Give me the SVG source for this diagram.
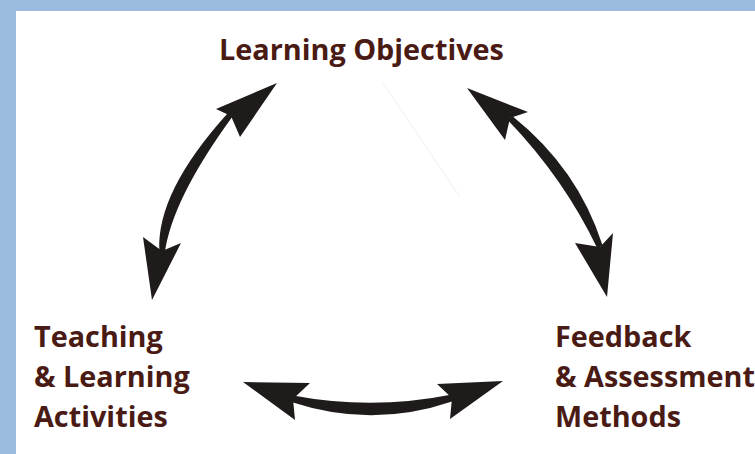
<svg xmlns="http://www.w3.org/2000/svg" width="755" height="454" viewBox="0 0 755 454">
  <style>
    .label { font-family: "Open Sans", "Liberation Sans", sans-serif; font-weight: 700; font-size: 28.8px; fill: #4a1b14; }
    .arrow { fill: #1e1b1a; }
  </style>
  <!-- frame -->
  <rect x="0" y="0" width="755" height="454" fill="#9bbce0"/>
  <rect x="16" y="11" width="739" height="443" fill="#ffffff"/>
  <!-- faint crease -->
  <line x1="383" y1="83" x2="460" y2="197" stroke="#000" stroke-opacity="0.04" stroke-width="1.5"/>

  <g id="objectives">
    <text class="label" x="219" y="60">Learning Objectives</text>
  </g>
  <g id="activities">
    <text class="label" x="34" y="347">Teaching</text>
    <text class="label" x="34" y="387">&amp; Learning</text>
    <text class="label" x="34" y="427">Activities</text>
  </g>
  <g id="assessment">
    <text class="label" x="555" y="347">Feedback</text>
    <text class="label" x="555" y="387">&amp; Assessment</text>
    <text class="label" x="555" y="427">Methods</text>
  </g>

  <g id="connectors" class="arrow">
    <!-- objectives <-> activities -->
    <path d="M227.5,113.5 Q156.3,192.2 159.3,250.9 L164.7,253.4 Q171.7,199.8 232.5,116.5 Z"/>
    <path d="M277,83 L216,109 L231,116 L240,137 Z"/>
    <path d="M152,300 L143,237 L162,251 L181,243 Z"/>
    <!-- objectives <-> assessment -->
    <path d="M512.5,116.3 Q578,168.6 602.5,245.3 L597.5,248.7 Q564,178.4 507.5,119.7 Z"/>
    <path d="M467,88 L528,112 L510,118 L505,140 Z"/>
    <path d="M607,297 L575,243 L600,247 L613,233 Z"/>
    <!-- activities <-> assessment -->
    <path d="M293,402.5 Q372.5,428.5 452,401.5 L452,394.5 Q372.5,410.5 293,395.5 Z"/>
    <path d="M243,382 L310,383 L293,399 L295,420 Z"/>
    <path d="M503,381 L437,384 L452,398 L450,419 Z"/>
  </g>
</svg>
